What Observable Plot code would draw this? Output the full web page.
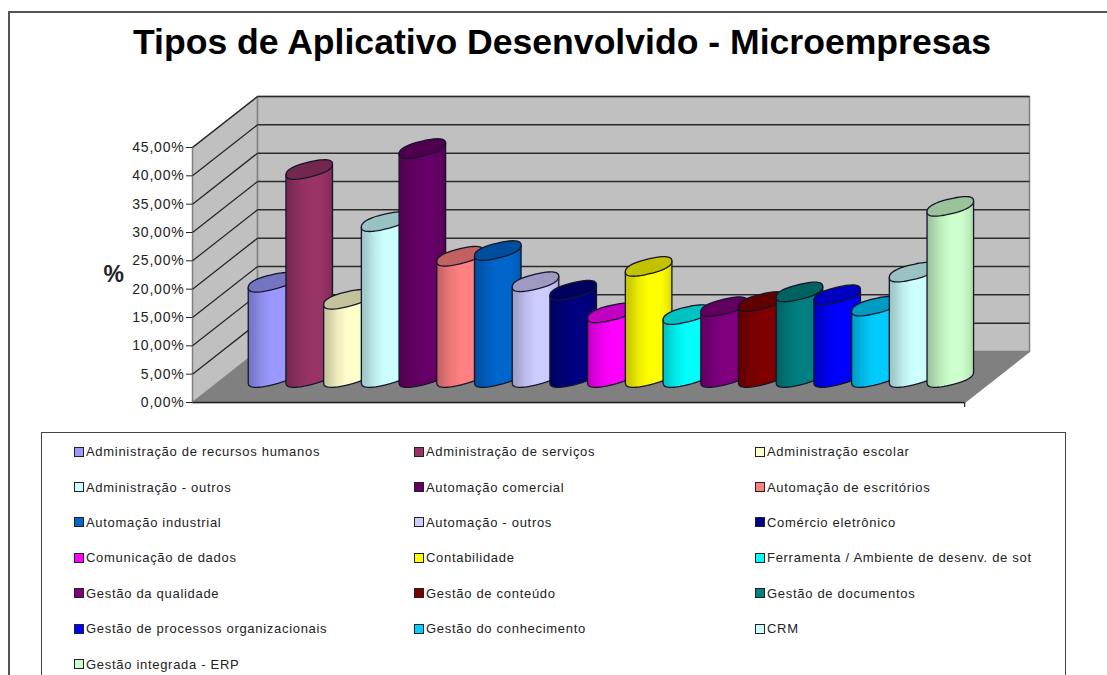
<!DOCTYPE html>
<html lang="pt">
<head>
<meta charset="utf-8">
<script src="https://cdn.jsdelivr.net/npm/d3@7"></script>
<script src="https://cdn.jsdelivr.net/npm/@observablehq/plot@0.6"></script>
<style>
  html, body { margin: 0; padding: 0; background: #fff; }
  body { width: 1107px; height: 675px; overflow: hidden; position: relative; font-family: "Liberation Sans", Arial, sans-serif; color: #1a1a1a; }
  #frame { position: absolute; left: 8px; top: 11px; width: 1200px; height: 800px; border: 2px solid #555; box-sizing: border-box; }
  #title { position: absolute; left: 0; top: 20px; width: 1124px; text-align: center; font-size: 35.6px; font-weight: bold; color: #000; line-height: 44px; white-space: nowrap; }
  #chart { position: absolute; left: 0; top: 0; }
  #chart svg { display: block; }
  #chart g[aria-label="y-axis tick label"] text { letter-spacing: 0.8px; }
  #legend { position: absolute; left: 41px; top: 432px; width: 1025px; height: 400px; border: 1.5px solid #444; box-sizing: border-box; }
  #legendGrid { position: absolute; left: 32px; top: 1px; display: grid; grid-template-columns: 340px 341px 310px; grid-auto-rows: 35.4px; }
  .item { display: flex; align-items: center; font-size: 13px; letter-spacing: 0.7px; white-space: nowrap; height: 35.4px; color: #222; }
  .sw { width: 8px; height: 8px; border: 1px solid #222; margin-right: 2px; flex: none; }
</style>
</head>
<body>
<div id="frame"></div>
<div id="title">Tipos de Aplicativo Desenvolvido - Microempresas</div>
<div id="chart"></div>
<div id="legend"><div id="legendGrid"></div></div>
<script>
const categories = [
  "Administração de recursos humanos", "Administração de serviços", "Administração escolar",
  "Administração - outros", "Automação comercial", "Automação de escritórios",
  "Automação industrial", "Automação - outros", "Comércio eletrônico",
  "Comunicação de dados", "Contabilidade", "Ferramenta / Ambiente de desenv. de sot",
  "Gestão da qualidade", "Gestão de conteúdo", "Gestão de documentos",
  "Gestão de processos organizacionais", "Gestão do conhecimento", "CRM",
  "Gestão integrada - ERP"
];
const values = [16.8, 36.7, 13.8, 27.5, 40.4, 21.4, 22.4, 16.9, 15.4, 11.4, 19.6, 11.1, 12.5, 13.4, 15.1, 14.6, 12.6, 18.6, 30.2];
const colors = [
  "#9999ff", "#993366", "#ffffcc", "#ccffff", "#660066", "#ff8080", "#0066cc", "#ccccff", "#000080",
  "#ff00ff", "#ffff00", "#00ffff", "#800080", "#800000", "#008080", "#0000ff", "#00ccff", "#ccffff", "#ccffcc"
];
const yTicks = [0, 5, 10, 15, 20, 25, 30, 35, 40, 45];

// Depth of the 3-D box, in scale units (x = category step, y = percent).
const floorFrontLeft = -2.095, floorFrontRight = 18.38, floorBackLeft = -0.37, floorBackRight = 20.1;
const wallRise = 9, wallTop = 45 + wallRise;
const barRise = 4.41, barA = 0.617, barB = 1.33, barC = 0.95, barRound = 0.82;

const shade = (hex, k) => { const c = d3.rgb(hex); return d3.rgb(c.r * k, c.g * k, c.b * k).formatHex(); };

function gradientDefs() {
  const ns = "http://www.w3.org/2000/svg";
  const defs = document.createElementNS(ns, "defs");
  const stops = [[0, .76], [.12, .82], [.28, .92], [.5, 1], [.75, 1], [.9, .93], [1, .84]];
  colors.forEach((c, i) => {
    const g = document.createElementNS(ns, "linearGradient");
    g.setAttribute("id", "bar" + i);
    stops.forEach(([o, k]) => {
      const s = document.createElementNS(ns, "stop");
      s.setAttribute("offset", o);
      s.setAttribute("stop-color", shade(c, k));
      g.appendChild(s);
    });
    defs.appendChild(g);
  });
  return defs;
}

const rounded = v => Math.sign(v) * Math.pow(Math.abs(v), barRound);
const ellipsePt = (u, v, t) => {
  const c = rounded(Math.cos(t)), s = rounded(Math.sin(t));
  return {x: u + barA * c, y: v + barB * s + barC * c};
};
const angles = d3.range(0, 61).map(k => k / 60 * 2 * Math.PI);

function cylinderMarks(value, i) {
  const base = barRise, top = value + barRise;
  // Body: down the left side, round the front of the base, up the right side.
  const front = angles.filter(t => t >= Math.PI - 1e-9).map(t => ellipsePt(i, base, t));
  const body = [ellipsePt(i, top, Math.PI), ...front, ellipsePt(i, top, 0)];
  const cap = angles.map(t => ellipsePt(i, top, t));
  return [
    Plot.line(body, {x: "x", y: "y", fill: `url(#bar${i})`, stroke: "#15152a", strokeWidth: 1.3, curve: "linear-closed"}),
    Plot.line(cap, {x: "x", y: "y", fill: shade(colors[i], .76), stroke: "#15152a", strokeWidth: 1.3, curve: "linear-closed"})
  ];
}

const gridTicks = yTicks.filter(d => d > 0);

const chart = Plot.plot({
  width: 1107, height: 420,
  marginLeft: 192, marginRight: 78, marginTop: 96, marginBottom: 18,
  style: {background: "transparent", fontFamily: "'Liberation Sans', Arial, sans-serif", overflow: "visible", color: "#1a1a1a"},
  x: {domain: [floorFrontLeft, floorBackRight], axis: null},
  y: {domain: [0, wallTop], axis: null},
  marks: [
    gradientDefs,
    // Floor
    Plot.line([[floorFrontLeft, 0], [floorBackLeft, wallRise], [floorBackRight, wallRise], [floorFrontRight, 0]],
      {x: "0", y: "1", fill: "#808080", stroke: "#808080", curve: "linear-closed"}),
    // Side wall
    Plot.line([[floorFrontLeft, 0], [floorFrontLeft, 45], [floorBackLeft, wallTop], [floorBackLeft, wallRise]],
      {x: "0", y: "1", fill: "#c0c0c0", stroke: "#808080", curve: "linear-closed"}),
    // Back wall
    Plot.line([[floorBackLeft, wallRise], [floorBackLeft, wallTop], [floorBackRight, wallTop], [floorBackRight, wallRise]],
      {x: "0", y: "1", fill: "#c0c0c0", stroke: "#808080", curve: "linear-closed"}),
    // Grid lines on both walls
    Plot.link(gridTicks, {x1: floorFrontLeft, x2: floorBackLeft, y1: d => d, y2: d => d + wallRise, stroke: "#222", strokeWidth: 1.2}),
    Plot.link(gridTicks, {x1: floorBackLeft, x2: floorBackRight, y1: d => d + wallRise, y2: d => d + wallRise, stroke: "#2a2a2a", strokeWidth: 1.5}),
    // Front floor edge and the end tick
    Plot.link([0], {x1: floorFrontLeft, x2: floorFrontRight, y1: 0, y2: 0, stroke: "#222", strokeWidth: 1.5}),
    Plot.link([0], {x1: floorFrontRight, x2: floorFrontRight, y1: 0, y2: -0.8, stroke: "#222", strokeWidth: 1.2}),
    // Cylinders, each in front of the one before
    ...values.flatMap(cylinderMarks),
    Plot.axisY({ticks: yTicks, tickFormat: d => d.toFixed(2).replace(".", ",") + "%", tickSize: 6, tickPadding: 2, fontSize: 14, label: null, stroke: "#222", color: "#222"}),
    Plot.text([{x: floorFrontLeft - 2.09, y: 22.6}], {x: "x", y: "y", text: () => "%", fontSize: 23, fontWeight: "bold", fill: "#222"})
  ]
});
document.getElementById("chart").appendChild(chart);

const grid = document.getElementById("legendGrid");
categories.forEach((name, i) => {
  const item = document.createElement("div");
  item.className = "item";
  const sw = document.createElement("span");
  sw.className = "sw";
  sw.style.background = colors[i];
  const label = document.createElement("span");
  label.textContent = name;
  item.append(sw, label);
  grid.appendChild(item);
});
</script>
</body>
</html>
